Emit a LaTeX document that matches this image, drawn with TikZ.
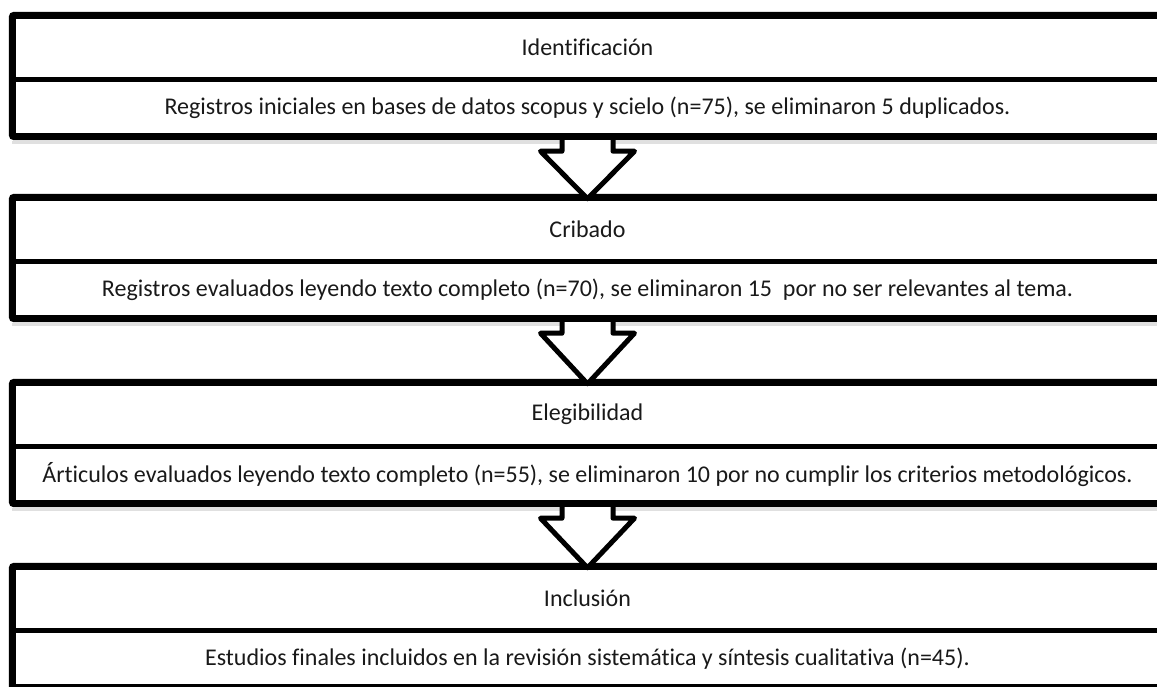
\documentclass[tikz,border=0pt]{standalone}
\usepackage{fontspec}
\setmainfont{Carlito}[Ligatures=NoCommon]
\usetikzlibrary{calc}
\begin{document}
\begin{tikzpicture}[x=1pt,y=-1pt,
  lbl/.style={minimum width=1150pt, inner sep=0pt, font=\fontsize{24}{28}\selectfont, text=black!90},
  ttl/.style={lbl, minimum height=64pt},
  txt/.style={lbl, minimum height=57pt},
  frame/.style={line width=7pt, rounded corners=2pt},
  divider/.style={line width=5pt},
  blockarrow/.style={line width=5pt, fill=white, line join=round},
  shadow/.style={line width=3pt, black!12}]
\useasboundingbox (0,0) rectangle (1157,686);
\clip (0,0) rectangle (1157,686);

\node[ttl] (t1) at (587.5,47.5) {Identificación};
\node[txt] (b1) at (587.5,108) {Registros iniciales en bases de datos scopus y scielo (n=75), se eliminaron 5 duplicados.};
\node[ttl] (t2) at (587.5,229.5) {Cribado};
\node[txt] (b2) at (587.5,290) {Registros evaluados leyendo texto completo (n=70), se eliminaron 15 \ por no ser relevantes al tema.};
\node[ttl] (t3) at (587.5,414.5) {Elegibilidad};
\node[txt] (b3) at (587.5,475) {Árticulos evaluados leyendo texto completo (n=55), se eliminaron 10 por no cumplir los criterios metodológicos.};
\node[ttl] (t4) at (587.5,598.5) {Inclusión};
\node[txt] (b4) at (587.5,659) {Estudios finales incluidos en la revisión sistemática y síntesis cualitativa (n=45).};

\foreach \i in {1,2,3,4} {
  \draw[shadow] ($(b\i.south west)+(0,6)$) -- ($(b\i.south east)+(0,6)$);
  \draw[frame] (t\i.north west) rectangle (b\i.south east);
  \draw[divider] (t\i.south west) -- (t\i.south east);
}

\foreach \u/\v in {b1/t2,b2/t3,b3/t4} {
  \path (\u.south) coordinate (s) (\v.north) coordinate (e);
  \draw[blockarrow] ($(s)+(-25.5,3.5)$) -- ($(s)+(-25.5,14.5)$) -- ($(s)+(-47,14.5)$)
    -- ($(e)+(0,1.5)$) -- ($(s)+(47,14.5)$) -- ($(s)+(25.5,14.5)$) -- ($(s)+(25.5,3.5)$);
}
\end{tikzpicture}
\end{document}
